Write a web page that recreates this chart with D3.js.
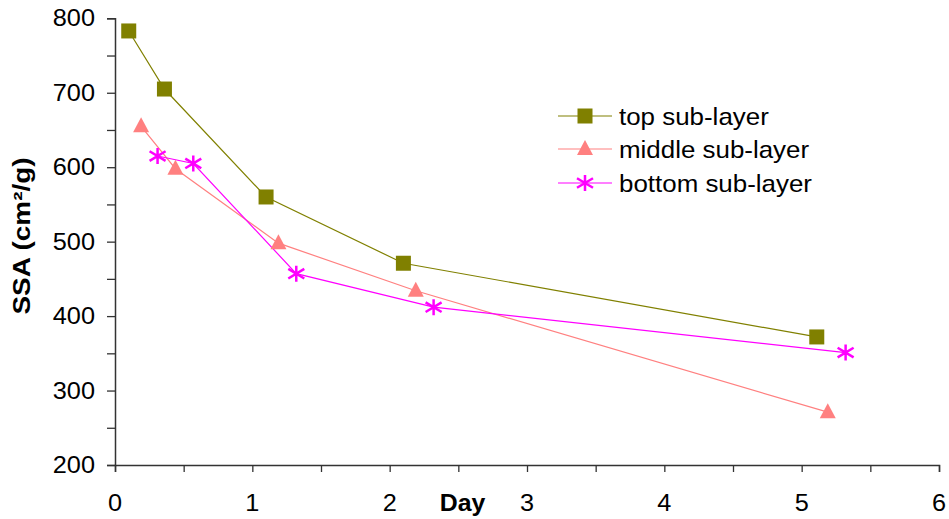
<!DOCTYPE html>
<html><head><meta charset="utf-8">
<script src="https://cdn.jsdelivr.net/npm/d3@7"></script>
<style>body{margin:0;background:#fff;}svg{display:block;font-family:"Liberation Sans",Arial,sans-serif;}</style>
</head><body>
<svg id="c" width="949" height="519"></svg>
<script>
const seriesNames = ["top sub-layer", "middle sub-layer", "bottom sub-layer"];
const topDays = [0.10, 0.36, 1.10, 2.10, 5.11];
const topSSA = [783, 705, 560, 471, 372];
const middleDays = [0.19, 0.44, 1.19, 2.19, 5.19];
const middleSSA = [655, 598, 498, 434, 271];
const bottomDays = [0.31, 0.57, 1.32, 2.32, 5.32];
const bottomSSA = [615, 605, 457, 412, 351];
const xTicks = [0, 1, 2, 3, 4, 5, 6];
const yTicks = [200, 300, 400, 500, 600, 700, 800];

const svg = d3.select("#c");
const x = d3.scaleLinear().domain([0, 6]).range([115, 939]);
const y = d3.scaleLinear().domain([200, 800]).range([465, 18.3]);
const axisColor = "#333";

// axes
const gx = svg.append("g").attr("transform", "translate(0,465)")
  .call(d3.axisBottom(x).tickValues(d3.range(0, 6.01, 0.5)).tickSize(7).tickFormat(""));
const gy = svg.append("g").attr("transform", "translate(115,0)")
  .call(d3.axisLeft(y).tickValues(d3.range(200, 801, 50)).tickSize(8).tickFormat(""));
[gx, gy].forEach(g => {
  g.select(".domain").attr("stroke", axisColor).attr("stroke-width", 1.5);
  g.selectAll(".tick line").attr("stroke", axisColor).attr("stroke-width", 1.3);
});
svg.append("g").selectAll("text").data(xTicks).join("text")
  .attr("transform", d => `translate(${x(d)},511) scale(1.1,1)`).attr("text-anchor", "middle")
  .attr("font-size", 23).attr("fill", "#000").text(d => d);
svg.append("g").selectAll("text").data(yTicks).join("text")
  .attr("transform", d => `translate(95,${y(d) + 8}) scale(1.1,1)`).attr("text-anchor", "end")
  .attr("font-size", 23).attr("fill", "#000").text(d => d);
svg.append("text").attr("transform", "translate(462.5,511) scale(1.08,1)").attr("text-anchor", "middle")
  .attr("font-size", 23).attr("font-weight", "bold").text("Day");
svg.append("text").attr("transform", "translate(30,236) rotate(-90)").attr("text-anchor", "middle")
  .attr("font-size", 23).attr("font-weight", "bold")
  .attr("textLength", 157).attr("lengthAdjust", "spacingAndGlyphs").text("SSA (cm²/g)");

const series = [
  {name: seriesNames[0], days: topDays, vals: topSSA, color: "#808000", marker: "square"},
  {name: seriesNames[1], days: middleDays, vals: middleSSA, color: "#FF8080", marker: "triangle"},
  {name: seriesNames[2], days: bottomDays, vals: bottomSSA, color: "#FF00FF", marker: "star"}
];

function drawMarker(g, type, cx, cy, color) {
  if (type === "square") {
    g.append("rect").attr("x", cx - 7.5).attr("y", cy - 7.5).attr("width", 15).attr("height", 15)
      .attr("fill", color);
  } else if (type === "triangle") {
    g.append("path").attr("d", `M${cx},${cy - 9}L${cx + 8},${cy + 6}L${cx - 8},${cy + 6}Z`).attr("fill", color);
  } else {
    const r = 8;
    g.append("path").attr("d",
      `M${cx},${cy - r}L${cx},${cy + r}M${cx - r},${cy - r * 0.6}L${cx + r},${cy + r * 0.6}M${cx - r},${cy + r * 0.6}L${cx + r},${cy - r * 0.6}`)
      .attr("stroke", color).attr("stroke-width", 2.5).attr("fill", "none");
  }
}

const line = d3.line().x(d => x(d[0])).y(d => y(d[1]));
series.forEach(s => {
  const pts = s.days.map((d, i) => [d, s.vals[i]]);
  svg.append("path").datum(pts).attr("d", line).attr("fill", "none")
    .attr("stroke", s.color).attr("stroke-width", 1.2);
});
series.forEach(s => {
  const g = svg.append("g");
  s.days.forEach((d, i) => drawMarker(g, s.marker, x(d), y(s.vals[i]), s.color));
});

// legend
const legY = [116, 149, 183];
series.forEach((s, i) => {
  const g = svg.append("g");
  g.append("line").attr("x1", 558).attr("x2", 612).attr("y1", legY[i]).attr("y2", legY[i])
    .attr("stroke", s.color).attr("stroke-width", 1.2);
  drawMarker(g, s.marker, 585, legY[i], s.color);
  g.append("text").attr("transform", `translate(619,${legY[i] + 8.5}) scale(1.08,1)`)
    .attr("font-size", 24).attr("fill", "#000").text(s.name);
});
</script>
</body></html>
